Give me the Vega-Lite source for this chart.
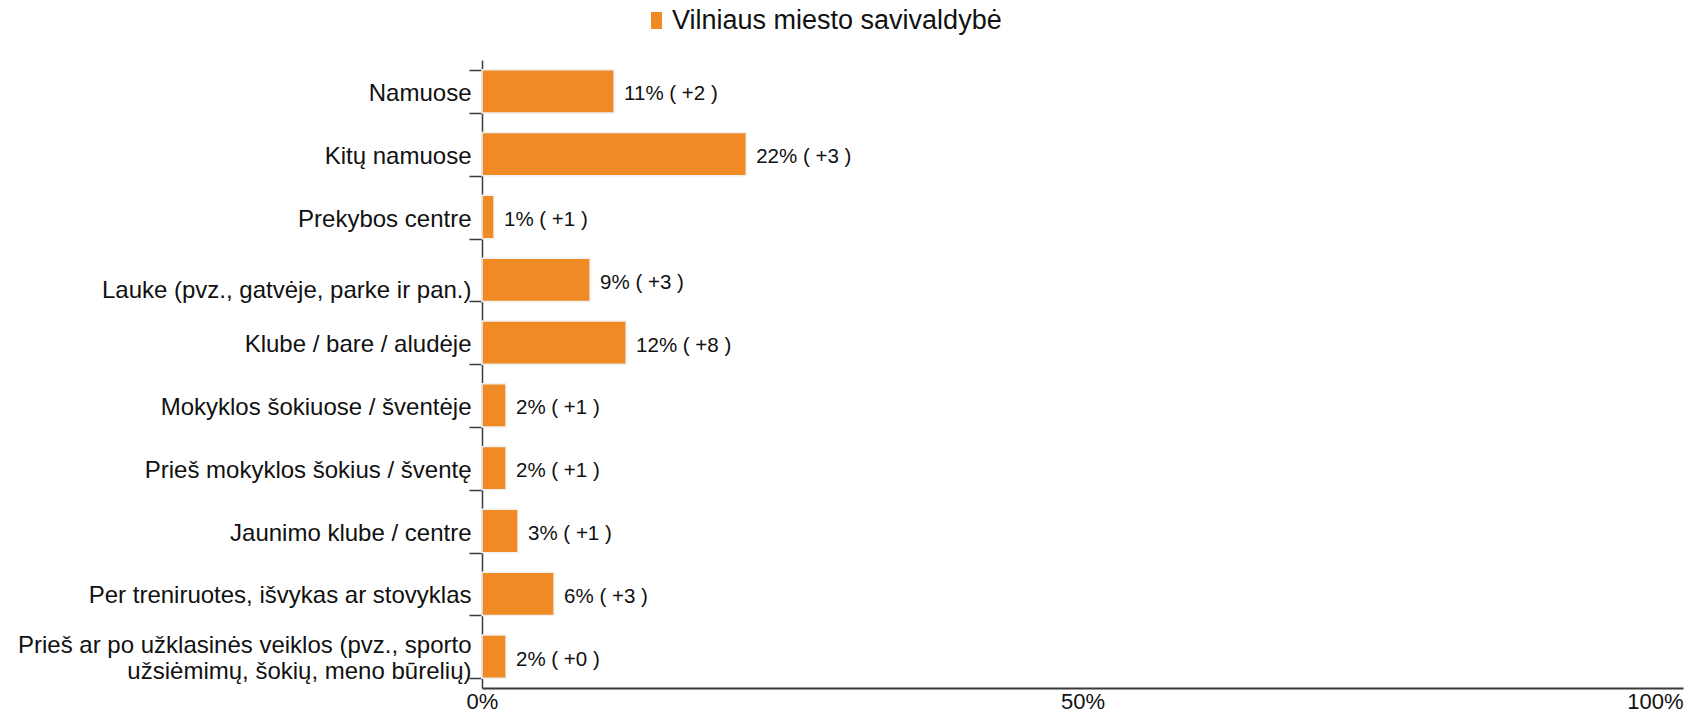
{
  "$schema": "https://vega.github.io/schema/vega-lite/v6.json",
  "autosize": {"type": "none"},
  "padding": {"left": 482, "top": 60, "right": 17, "bottom": 24},
  "width": 1201,
  "height": 628,
  "background": "white",
  "config": {
    "font": "Liberation Sans",
    "view": {"stroke": null}
  },
  "data": {
    "values": [
      {"cat": "Namuose", "order": 1, "value": 11, "label": "11% ( +2 )", "region": "Vilniaus miesto savivaldybė"},
      {"cat": "Kitų namuose", "order": 2, "value": 22, "label": "22% ( +3 )", "region": "Vilniaus miesto savivaldybė"},
      {"cat": "Prekybos centre", "order": 3, "value": 1, "label": "1% ( +1 )", "region": "Vilniaus miesto savivaldybė"},
      {"cat": "Lauke (pvz., gatvėje, parke ir pan.)", "order": 4, "value": 9, "label": "9% ( +3 )", "region": "Vilniaus miesto savivaldybė"},
      {"cat": "Klube / bare / aludėje", "order": 5, "value": 12, "label": "12% ( +8 )", "region": "Vilniaus miesto savivaldybė"},
      {"cat": "Mokyklos šokiuose / šventėje", "order": 6, "value": 2, "label": "2% ( +1 )", "region": "Vilniaus miesto savivaldybė"},
      {"cat": "Prieš mokyklos šokius / šventę", "order": 7, "value": 2, "label": "2% ( +1 )", "region": "Vilniaus miesto savivaldybė"},
      {"cat": "Jaunimo klube / centre", "order": 8, "value": 3, "label": "3% ( +1 )", "region": "Vilniaus miesto savivaldybė"},
      {"cat": "Per treniruotes, išvykas ar stovyklas", "order": 9, "value": 6, "label": "6% ( +3 )", "region": "Vilniaus miesto savivaldybė"},
      {"cat": "Prieš ar po užklasinės veiklos (pvz., sporto|užsiėmimų, šokių, meno būrelių)", "order": 10, "value": 2, "label": "2% ( +0 )", "region": "Vilniaus miesto savivaldybė"}
    ]
  },
  "encoding": {
    "y": {
      "field": "cat",
      "type": "nominal",
      "sort": {"field": "order", "order": "ascending"},
      "title": null,
      "scale": {"paddingInner": 0.31, "paddingOuter": 0.155},
      "axis": {
        "labelExpr": "isValid(datum.value) ? split(datum.value, '|') : ''",
        "labelFontSize": 24,
        "labelColor": "#111111",
        "labelLineHeight": 26,
        "labelPadding": -2,
        "labelLimit": 600,
        "labelOffset": {
          "condition": [
            {"test": "datum.value === 'Prieš ar po užklasinės veiklos (pvz., sporto|užsiėmimų, šokių, meno būrelių)'", "value": -11},
            {"test": "datum.value === 'Lauke (pvz., gatvėje, parke ir pan.)'", "value": 11}
          ],
          "value": 2
        },
        "tickBand": "extent",
        "tickSize": 13,
        "tickColor": "#3a3a3a",
        "tickWidth": 1.5,
        "domainColor": "#3a3a3a",
        "domainWidth": 1.5
      }
    },
    "x": {
      "field": "value",
      "type": "quantitative",
      "title": null,
      "scale": {"domain": [0, 100]},
      "axis": {
        "values": [0, 50, 100],
        "labelExpr": "datum.value + '%'",
        "labelFontSize": 22,
        "labelColor": "#111111",
        "labelPadding": 3,
        "labelAlign": {"condition": {"test": "datum.value == 100", "value": "right"}, "value": "center"},
        "ticks": false,
        "grid": false,
        "domainColor": "#3a3a3a",
        "domainWidth": 2
      }
    }
  },
  "layer": [
    {
      "mark": {"type": "bar", "stroke": "#f0f0f0", "strokeWidth": 1.5},
      "encoding": {
        "color": {
          "field": "region",
          "type": "nominal",
          "scale": {"range": ["#EF8A25"]},
          "legend": {
            "title": null,
            "orient": "none",
            "legendX": 161,
            "legendY": -53,
            "padding": 0,
            "symbolType": "M-0.65,-1H0.65V1H-0.65Z",
            "symbolSize": 289,
            "symbolStrokeWidth": 0,
            "labelFontSize": 27,
            "labelColor": "#111111",
            "labelOffset": 2,
            "labelLimit": 600
          }
        }
      }
    },
    {
      "mark": {"type": "text", "align": "left", "dx": 10, "dy": 3, "fontSize": 20.5, "color": "#111111"},
      "encoding": {"text": {"field": "label"}}
    }
  ]
}
